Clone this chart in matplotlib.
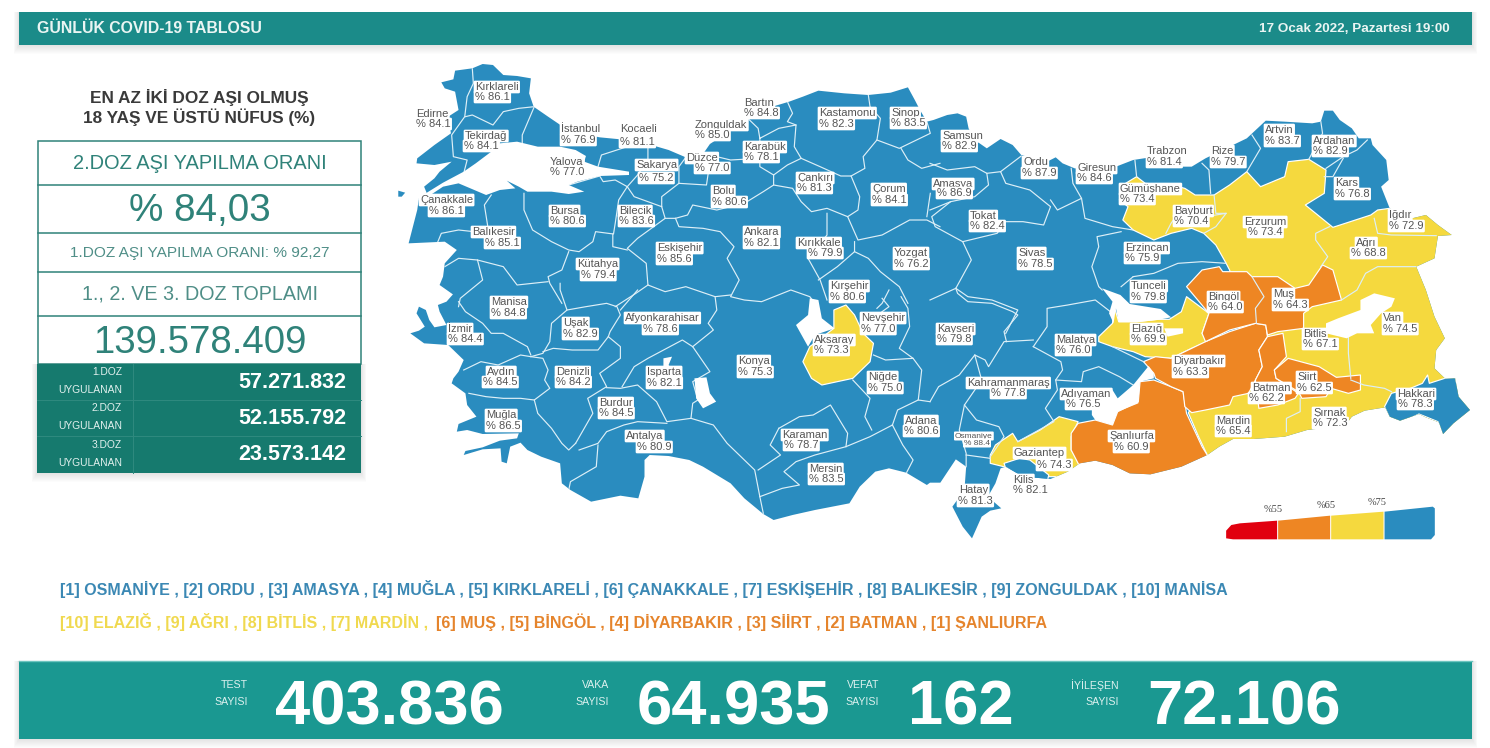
import matplotlib
matplotlib.use('Agg')
import matplotlib.pyplot as plt
from matplotlib.patches import Polygon, Rectangle

plt.rcParams['font.family'] = ['Liberation Sans', 'DejaVu Sans']

# ---- values
provinces = ['Edirne', 'Kırklareli', 'Tekirdağ', 'İstanbul', 'Kocaeli', 'Yalova', 'Sakarya', 'Düzce', 'Zonguldak',
             'Bartın', 'Karabük', 'Kastamonu', 'Sinop', 'Çankırı', 'Çorum', 'Bolu', 'Çanakkale', 'Bursa', 'Bilecik',
             'Balıkesir', 'Ankara', 'Kırıkkale', 'Eskişehir', 'Kütahya', 'Yozgat', 'Kırşehir', 'Manisa', 'Uşak',
             'Afyonkarahisar', 'Nevşehir', 'İzmir', 'Aksaray', 'Konya', 'Aydın', 'Denizli', 'Isparta', 'Niğde',
             'Burdur', 'Muğla', 'Adana', 'Karaman', 'Antalya', 'Mersin', 'Samsun', 'Amasya', 'Ordu', 'Giresun',
             'Trabzon', 'Rize', 'Artvin', 'Ardahan', 'Kars', 'Gümüşhane', 'Bayburt', 'Erzurum', 'Iğdır', 'Ağrı',
             'Tokat', 'Sivas', 'Erzincan', 'Tunceli', 'Bingöl', 'Muş', 'Van', 'Kayseri', 'Elazığ', 'Malatya',
             'Bitlis', 'Diyarbakır', 'Kahramanmaraş', 'Siirt', 'Batman', 'Hakkari', 'Adıyaman', 'Mardin', 'Şırnak',
             'Şanlıurfa', 'Osmaniye', 'Gaziantep', 'Kilis', 'Hatay']
rates = [84.1, 86.1, 84.1, 76.9, 81.1, 77.0, 75.2, 77.0, 85.0,
         84.8, 78.1, 82.3, 83.5, 81.3, 84.1, 80.6, 86.1, 80.6, 83.6,
         85.1, 82.1, 79.9, 85.6, 79.4, 76.2, 80.6, 84.8, 82.9,
         78.6, 77.0, 84.4, 73.3, 75.3, 84.5, 84.2, 82.1, 75.0,
         84.5, 86.5, 80.6, 78.7, 80.9, 83.5, 82.9, 86.9, 87.9, 84.6,
         81.4, 79.7, 83.7, 82.9, 76.8, 73.4, 70.4, 73.4, 72.9, 68.8,
         82.4, 78.5, 75.9, 79.8, 64.0, 64.3, 74.5, 79.8, 69.9, 76.0,
         67.1, 63.3, 77.8, 62.5, 62.2, 78.3, 76.5, 65.4, 72.3,
         60.9, 88.4, 74.3, 82.1, 81.3]
rate_of = dict(zip(provinces, rates))

thresholds = [55, 65, 75]
threshold_labels = ['%55', '%65', '%75']

top_title = 'GÜNLÜK COVID-19 TABLOSU'
top_date = '17 Ocak 2022, Pazartesi 19:00'
panel_heading = ['EN AZ İKİ DOZ AŞI OLMUŞ', '18 YAŞ VE ÜSTÜ NÜFUS (%)']
panel_rows = ['2.DOZ AŞI YAPILMA ORANI', '% 84,03', '1.DOZ AŞI YAPILMA ORANI: % 92,27',
              '1., 2. VE 3. DOZ TOPLAMI', '139.578.409']
dose_names = ['1.DOZ', '2.DOZ', '3.DOZ']
dose_counts = ['57.271.832', '52.155.792', '23.573.142']
best_line = '[1] OSMANİYE , [2] ORDU , [3] AMASYA , [4] MUĞLA , [5] KIRKLARELİ , [6] ÇANAKKALE , [7] ESKİŞEHİR , [8] BALIKESİR , [9] ZONGULDAK , [10] MANİSA'
worst_yellow = '[10] ELAZIĞ , [9] AĞRI , [8] BİTLİS , [7] MARDİN ,'
worst_orange = '[6] MUŞ , [5] BİNGÖL , [4] DİYARBAKIR , [3] SİİRT , [2] BATMAN , [1] ŞANLIURFA'
stat_names = ['TEST', 'VAKA', 'VEFAT', 'İYİLEŞEN']
stat_values = ['403.836', '64.935', '162', '72.106']

# ---- label positions: name x, name y, value x, value y (pixels)
label_pos = [(416, 114, 416, 124), (475, 87, 475, 97), (465, 136, 464, 146), (561, 129, 561, 140), (620, 129, 620, 142),
             (550, 162, 550, 172), (636, 165, 639, 178), (686, 158, 695, 168), (695, 125, 695, 135),
             (744, 103, 744, 113), (744, 147, 744, 157), (819, 113, 819, 124), (891, 113, 891, 123), (797, 178, 797, 188),
             (872, 189, 872, 200), (712, 191, 712, 202), (420, 200, 429, 211), (550, 211, 550, 221), (619, 211, 619, 221),
             (472, 232, 485, 243), (744, 232, 744, 243), (797, 243, 808, 253), (657, 248, 657, 259), (577, 264, 581, 275),
             (894, 253, 894, 264), (830, 286, 830, 297), (491, 302, 491, 313), (563, 323, 563, 334),
             (625, 318, 643, 329), (861, 318, 861, 329), (448, 329, 448, 339), (814, 340, 814, 350), (738, 361, 738, 372),
             (487, 372, 483, 382), (556, 372, 556, 382), (647, 372, 647, 383), (868, 377, 868, 388),
             (599, 403, 599, 413), (486, 415, 486, 426), (905, 421, 904, 431), (782, 435, 784, 445), (626, 436, 637, 447),
             (809, 469, 809, 479), (942, 136, 942, 146), (933, 184, 937, 193), (1023, 162, 1022, 173), (1077, 168, 1077, 178),
             (1147, 151, 1147, 162), (1211, 151, 1211, 162), (1265, 130, 1265, 141), (1313, 141, 1313, 151), (1335, 183, 1335, 194),
             (1120, 189, 1120, 199), (1174, 211, 1174, 221), (1244, 222, 1248, 232), (1389, 215, 1389, 226), (1356, 243, 1351, 253),
             (970, 216, 970, 226), (1018, 253, 1018, 264), (1125, 248, 1125, 258), (1131, 286, 1131, 297), (1208, 297, 1208, 307),
             (1273, 294, 1273, 305), (1383, 318, 1383, 329), (937, 329, 937, 339), (1131, 329, 1131, 339), (1056, 340, 1056, 350),
             (1303, 334, 1303, 344), (1173, 361, 1173, 372), (967, 383, 991, 393), (1297, 377, 1297, 388), (1252, 388, 1249, 398),
             (1397, 394, 1398, 404), (1061, 394, 1066, 404), (1216, 421, 1216, 431), (1313, 413, 1313, 423),
             (1109, 436, 1114, 447), (955, 436, 964, 443), (1014, 453, 1037, 465), (1013, 480, 1013, 490), (959, 490, 958, 501)]

# ---- map geometry, traced in four local frames of the picture
NW = (400, 50)
NE = (930, 70)
SW = (400, 290)
SE = (930, 290)


def tr(frame, pts):
    return [(frame[0] + x / 2.904, frame[1] + y / 3) for x, y in pts]


outline = (
    tr(NW, [(120, 97), (155, 88), (160, 62), (210, 55), (240, 42), (270, 45), (300, 75), (340, 78), (380, 85), (375, 130),
            (388, 170), (430, 200), (470, 228), (520, 250), (580, 262), (640, 268), (720, 282), (780, 300), (830, 322),
            (880, 312), (900, 282), (955, 245), (1010, 205), (1075, 172), (1130, 155), (1170, 140), (1215, 122),
            (1290, 130), (1360, 135), (1425, 128), (1475, 112), (1495, 150), (1510, 180), (1530, 215)]) +
    tr(NE, [(10, 150), (50, 135), (80, 130), (105, 140), (112, 175), (130, 210), (165, 235), (205, 207), (240, 225),
            (265, 255), (300, 265), (340, 275), (365, 262), (385, 280), (420, 295), (470, 300), (540, 290), (590, 270),
            (640, 262), (700, 290), (760, 290), (800, 265), (860, 235), (920, 205), (975, 152), (1030, 155), (1110, 160),
            (1135, 155), (1145, 122), (1170, 122), (1190, 150), (1225, 175), (1245, 205), (1280, 205), (1285, 225),
            (1325, 270), (1332, 330), (1310, 350), (1335, 415), (1380, 450), (1440, 435), (1475, 465), (1515, 495),
            (1475, 498), (1465, 565), (1412, 590), (1440, 660)]) +
    tr(SE, [(1465, 80), (1495, 145), (1470, 180), (1465, 235), (1495, 265), (1525, 265), (1535, 320), (1568, 360),
            (1520, 400), (1490, 432), (1478, 397), (1440, 382), (1420, 372), (1365, 392), (1335, 380), (1322, 352),
            (1262, 362), (1225, 380), (1205, 408), (1160, 412), (1095, 420), (1030, 440), (940, 447), (880, 447),
            (840, 470), (805, 495), (730, 530), (640, 553), (580, 550), (530, 525), (480, 512), (435, 520), (400, 545),
            (350, 567), (270, 560), (220, 530), (205, 535), (190, 580), (168, 620), (207, 655), (175, 662), (150, 680),
            (122, 745), (95, 710), (65, 650), (100, 600), (105, 530), (75, 508), (30, 578), (0, 578)]) +
    tr(SW, [(1530, 585), (1470, 548), (1420, 535), (1380, 545), (1335, 590), (1305, 640), (1205, 660), (1140, 675),
            (1085, 690), (1055, 672), (1000, 625), (960, 580), (880, 530), (840, 510), (780, 498), (725, 495), (710, 510),
            (710, 560), (692, 625), (640, 617), (555, 635), (495, 600), (470, 580), (465, 520), (410, 500), (370, 480),
            (350, 458), (320, 470), (310, 520), (295, 515), (292, 475), (240, 478), (185, 495), (190, 483), (240, 472),
            (290, 452), (340, 445), (345, 430), (240, 432), (195, 420), (165, 425), (170, 402), (222, 380), (195, 345),
            (190, 310), (150, 280), (155, 265), (170, 245), (185, 210), (140, 165), (70, 160), (30, 130), (55, 122),
            (72, 110), (60, 90), (48, 70), (55, 50), (75, 60), (85, 90), (100, 112), (135, 105), (115, 65), (110, 45),
            (135, 35), (165, 0)]) +
    tr(NW, [(170, 745), (115, 705), (125, 680), (130, 640), (165, 600), (130, 575), (25, 580), (50, 480), (55, 445),
            (78, 430), (70, 410), (100, 385), (115, 365), (150, 335), (100, 345), (48, 340), (50, 325), (100, 285),
            (148, 250), (140, 200), (170, 180), (160, 125), (130, 115)])
)
gokceada = tr(NW, [(-5, 422), (15, 428), (5, 440), (-5, 440)])

marmara = tr(NW, [(265, 305), (290, 280), (340, 275), (400, 290), (465, 290), (510, 300), (540, 318), (535, 335), (575, 350),
                  (665, 365), (665, 375), (580, 378), (515, 395), (490, 405), (535, 425), (490, 432), (440, 425), (370, 425),
                  (345, 410), (310, 392), (335, 415), (290, 420), (250, 435), (170, 400), (125, 410), (90, 434), (50, 450),
                  (78, 428), (125, 398), (185, 365), (220, 340)])
lakes = [
    tr(SW, [(1190, 25), (1215, 30), (1225, 85), (1262, 115), (1205, 135), (1185, 170), (1150, 105), (1185, 75)]),
    tr(SW, [(855, 265), (890, 262), (900, 310), (918, 335), (880, 355), (860, 325)]),
    tr(SW, [(765, 205), (790, 200), (780, 225), (790, 240), (765, 230)]),
    tr(SE, [(1150, 100), (1185, 85), (1250, 60), (1250, 30), (1290, 10), (1350, 25), (1340, 50), (1310, 70), (1280, 105),
            (1290, 130), (1240, 130), (1210, 145), (1150, 130)]),
    tr(SE, [(500, -5), (553, 15), (580, 42), (670, 57), (700, 82), (660, 90), (600, 97), (548, 97), (540, 55), (533, 100),
            (520, 70), (530, 35)]),
    tr(SE, [(680, 115), (735, 115), (735, 130), (690, 140)]),
    tr(SE, [(470, 355), (530, 300), (545, 325), (590, 285), (635, 228), (650, 250), (650, 265), (610, 275), (605, 340),
            (545, 365), (530, 405), (480, 390), (470, 375)]),
]

# painted in this order, each one takes the colour of the named province
regions = [
    ('Erzurum', tr(NE, [(560, 345), (600, 320), (625, 340), (700, 345), (740, 355), (770, 375), (825, 375), (870, 345),
                        (920, 305), (960, 350), (1030, 320), (1040, 275), (1100, 268), (1150, 300), (1145, 370), (1090, 405),
                        (1120, 430), (1170, 472), (1280, 435), (1300, 420), (1335, 415), (1600, 420)]) +
     tr(SE, [(1600, 300), (1600, 600), (805, 600), (805, 495), (780, 440), (750, 368), (800, 300), (900, 200), (900, 60)]) +
     tr(NE, [(870, 600), (860, 580), (830, 525), (795, 490), (760, 475), (700, 490), (650, 510), (590, 480), (560, 450),
             (575, 410), (550, 390)])),
    ('Elazığ', tr(SE, [(490, 140), (530, 100), (535, 50), (548, 95), (600, 95), (660, 88), (695, 88), (730, 65), (745, 20),
                       (810, 70), (790, 130), (805, 155), (760, 175), (700, 205), (625, 200), (590, 185), (530, 170), (490, 155)])),
    ('Gaziantep', tr(SE, [(175, 495), (190, 465), (240, 430), (255, 455), (320, 420), (375, 380), (430, 395), (410, 440),
                          (410, 480), (435, 520), (400, 560), (330, 560), (175, 520)])),
    ('Aksaray', tr(SW, [(1260, 60), (1295, 45), (1320, 75), (1345, 130), (1375, 160), (1365, 215), (1315, 265), (1270, 275),
                        (1225, 285), (1195, 265), (1170, 215), (1190, 170), (1260, 115)])),
    ('Şanlıurfa', tr(SE, [(410, 430), (430, 400), (480, 390), (530, 405), (545, 365), (605, 335), (610, 275), (650, 270),
                          (700, 290), (735, 305), (745, 370), (790, 470), (805, 495), (760, 560), (640, 570), (580, 560),
                          (530, 535), (480, 525), (435, 530), (410, 480)])),
    ('Diyarbakır', tr(SE, [(620, 215), (655, 200), (700, 205), (760, 175), (800, 155), (870, 125), (945, 100), (975, 105),
                           (980, 140), (955, 180), (965, 230), (945, 270), (925, 310), (880, 320), (870, 345), (800, 360),
                           (760, 368), (740, 350), (735, 305), (700, 290), (655, 265), (650, 250)])),
    ('Bingöl', tr(NE, [(745, 650), (790, 600), (840, 590), (850, 605), (920, 605), (935, 620), (1010, 620), (1060, 655),
                       (1100, 645), (1140, 585), (1170, 600), (1195, 690), (1110, 710), (1085, 730), (1085, 775), (1010, 785),
                       (980, 795), (975, 765), (945, 760), (870, 780), (800, 815), (790, 790), (810, 730)])),
    ('Batman', tr(SE, [(980, 140), (1025, 130), (1035, 200), (1000, 240), (1005, 265), (1070, 310), (1060, 325), (1010, 345),
                       (955, 355), (945, 270), (965, 230), (955, 180)])),
    ('Siirt', tr(SE, [(1040, 205), (1130, 230), (1180, 262), (1250, 255), (1250, 300), (1215, 310), (1165, 295), (1150, 320),
                      (1080, 325), (1070, 305), (1005, 265), (1000, 240)])),
    ('Hakkari', tr(SE, [(1445, 255), (1450, 280), (1495, 265), (1525, 262), (1540, 320), (1580, 360), (1490, 440), (1475, 395),
                        (1420, 372), (1365, 400), (1335, 385), (1320, 350), (1340, 310), (1395, 295), (1430, 280)])),
    ('Kilis', tr(SE, [(215, 520), (260, 505), (290, 510), (345, 555), (340, 575), (270, 565), (220, 535)])),
]

borders = [
    tr(NW, [(210, 55), (213, 100), (195, 140), (188, 200), (150, 255), (155, 320), (195, 330), (185, 370)]),
    tr(NW, [(190, 200), (210, 195), (240, 210), (270, 225), (300, 185), (345, 175), (390, 170)]),
    tr(NW, [(390, 170), (355, 255), (355, 285)]),
    tr(NW, [(265, 435), (245, 465), (255, 530), (215, 545), (170, 540), (120, 550), (110, 575)]),
    tr(NW, [(360, 430), (360, 480), (385, 540), (440, 575), (490, 600), (520, 605), (560, 575), (568, 545), (620, 552),
            (625, 520), (635, 450), (660, 410)]),
    tr(NW, [(490, 405), (580, 378), (590, 395), (625, 390), (660, 410)]),
    tr(NW, [(660, 290), (585, 315), (575, 350)]),
    tr(NW, [(720, 285), (720, 330), (690, 375), (660, 410), (680, 440), (720, 455), (760, 470)]),
    tr(NW, [(830, 322), (810, 350), (810, 400), (760, 440), (760, 470), (770, 505)]),
    tr(NW, [(810, 400), (890, 405), (895, 370), (920, 320)]),
    tr(NW, [(830, 320), (920, 320), (960, 330), (1045, 325)]),
    tr(NW, [(1010, 205), (1040, 235), (1045, 265), (1100, 235), (1150, 225), (1145, 290), (1165, 325), (1125, 345), (1085, 375),
            (1045, 350), (1045, 265)]),
    tr(NW, [(1125, 155), (1140, 190), (1125, 215), (1150, 225)]),
    tr(NW, [(1085, 375), (1085, 405), (1055, 425), (1000, 460), (920, 480), (850, 465), (835, 495), (800, 505), (770, 505),
            (690, 565), (660, 595), (715, 640), (720, 705), (770, 725), (830, 710), (915, 740), (960, 735)]),
    tr(NW, [(800, 505), (810, 530), (880, 535), (930, 545), (970, 590), (950, 625), (985, 690), (960, 740), (1000, 750),
            (1050, 755), (1135, 720), (1190, 740), (1205, 760)]),
    tr(NW, [(1165, 325), (1220, 350), (1280, 378), (1310, 378), (1335, 440), (1330, 480), (1300, 500), (1240, 475), (1195, 485),
            (1165, 455), (1140, 415), (1085, 405)]),
    tr(NW, [(1360, 135), (1365, 170), (1395, 205), (1385, 270), (1345, 320), (1350, 355), (1310, 378)]),
    tr(NW, [(1385, 270), (1450, 295), (1500, 270), (1540, 250), (1530, 215)]),
    tr(NW, [(1455, 295), (1475, 330), (1515, 355), (1568, 340)]),
    tr(NW, [(1300, 500), (1330, 570), (1400, 555), (1480, 510), (1530, 510), (1568, 530)]),
    tr(NW, [(1540, 430), (1530, 500)]),
    tr(NW, [(1240, 490), (1240, 555), (1185, 625), (1220, 690), (1240, 750)]),
    tr(NW, [(1215, 690), (1270, 650), (1320, 605), (1320, 575)]),
    tr(NW, [(1320, 605), (1360, 625), (1395, 665), (1450, 710), (1475, 760)]),
    tr(NW, [(1420, 720), (1400, 760), (1385, 775)]),
    tr(NW, [(618, 552), (618, 590), (660, 600)]),
    tr(NW, [(490, 605), (470, 660), (430, 680), (435, 700), (470, 760)]),
    tr(NW, [(720, 705), (685, 730), (625, 770)]),
    tr(NW, [(130, 650), (170, 625), (225, 630), (240, 690), (175, 745), (170, 770)]),
    tr(NW, [(225, 630), (300, 650), (340, 705), (430, 695)]),
    tr(SW, [(170, 35), (190, 65), (240, 100), (265, 130), (300, 130), (370, 170), (380, 195)]),
    tr(SW, [(185, 240), (235, 215), (285, 225), (350, 195), (380, 200), (415, 205), (430, 240), (420, 270), (435, 295), (390, 330),
            (350, 325), (300, 325), (250, 320), (200, 310)]),
    tr(SW, [(465, -20), (465, 0), (485, 60), (440, 100), (435, 155), (415, 190), (380, 200)]),
    tr(SW, [(485, 60), (540, 50), (600, 40), (630, 50), (640, 75), (610, 125), (605, 140), (575, 180), (500, 180), (445, 175), (415, 185)]),
    tr(SW, [(640, 60), (690, 0)]),
    tr(SW, [(390, 330), (400, 370), (440, 415), (470, 460), (490, 480), (510, 460)]),
    tr(SW, [(605, 140), (640, 170), (640, 205), (580, 250), (600, 290), (545, 325), (560, 370), (510, 460)]),
    tr(SW, [(520, 480), (575, 460), (600, 425), (650, 405), (690, 395), (775, 400)]),
    tr(SW, [(575, 465), (570, 530), (495, 575), (490, 600)]),
    tr(SW, [(600, 293), (640, 295), (690, 285), (745, 335), (775, 395), (845, 385), (910, 405), (950, 460), (1030, 540), (1045, 620), (1055, 670)]),
    tr(SW, [(645, 290), (680, 230), (720, 205), (820, 150), (850, 170), (900, 245), (850, 275), (865, 330), (850, 340), (845, 385)]),
    tr(SW, [(850, 170), (910, 120), (895, 100), (920, 60), (915, 20)]),
    tr(SW, [(1100, 415), (1075, 465), (1105, 495), (1040, 540)]),
    tr(SW, [(1100, 415), (1160, 380), (1200, 375), (1250, 345), (1300, 430), (1295, 470)]),
    tr(SW, [(1045, 620), (1110, 595), (1160, 585), (1115, 545), (1150, 515), (1205, 495), (1295, 470), (1365, 440), (1430, 405)]),
    tr(SW, [(1315, 270), (1365, 325), (1350, 380), (1370, 420)]),
    tr(SW, [(1430, 405), (1445, 360), (1505, 330), (1515, 240), (1490, 205), (1410, 210), (1375, 195)]),
    tr(SW, [(1490, 205), (1450, 175), (1480, 110), (1475, 55), (1455, 20)]),
    tr(SW, [(1430, 405), (1460, 465), (1490, 510), (1470, 550)]),
    tr(SW, [(1345, 70), (1380, 80), (1420, 50), (1400, 25)]),
    tr(SW, [(1505, 330), (1539, 335)]),
    tr(SE, [(0, 335), (25, 290), (85, 255), (130, 195), (160, 210), (170, 230), (215, 155), (300, 150)]),
    tr(SE, [(130, 195), (150, 270), (100, 345), (85, 420), (105, 490), (105, 530)]),
    tr(SE, [(100, 345), (135, 390), (200, 410), (215, 440), (175, 500)]),
    tr(SE, [(105, 495), (175, 505)]),
    tr(SE, [(300, 170), (340, 110), (340, 55), (400, 45), (480, 30), (530, 70)]),
    tr(SE, [(300, 170), (380, 215), (385, 240), (365, 270), (370, 300), (335, 355), (360, 395), (255, 455)]),
    tr(SE, [(365, 270), (440, 275), (445, 245), (490, 230), (550, 260), (590, 285)]),
    tr(SE, [(530, 170), (620, 215)]),
    tr(SE, [(222, 155), (215, 125), (255, 75), (240, 65), (180, 40), (110, 35), (80, 10), (75, -5)]),
    tr(NE, [(0, 280), (50, 300), (130, 290), (165, 310), (170, 345), (130, 380), (60, 395), (0, 420)]),
    tr(NE, [(165, 310), (205, 305), (220, 340), (290, 360), (350, 410), (330, 465), (270, 455), (220, 455), (195, 490), (95, 515),
            (15, 470), (5, 440), (60, 395)]),
    tr(NE, [(265, 258), (205, 305)]),
    tr(NE, [(350, 390), (370, 420), (440, 385), (415, 340), (410, 295)]),
    tr(NE, [(440, 385), (450, 445), (530, 470), (590, 480)]),
    tr(NE, [(595, 270), (600, 320)]),
    tr(NE, [(790, 280), (810, 300), (815, 370)]),
    tr(NE, [(935, 195), (960, 235), (920, 305)]),
    tr(NE, [(1135, 155), (1140, 190), (1100, 268)]),
    tr(NE, [(1150, 295), (1200, 260), (1240, 240), (1270, 210)]),
    tr(NE, [(1200, 265), (1170, 320), (1145, 320)]),
    tr(NE, [(555, 485), (485, 500), (490, 530), (470, 590), (490, 650), (500, 660)]),
    tr(NE, [(590, 620), (650, 610), (720, 580), (790, 575), (860, 580)]),
    tr(NE, [(555, 650), (590, 620)]),
    tr(NE, [(95, 515), (120, 570), (75, 655), (110, 680), (180, 690), (255, 720), (220, 790)]),
    tr(NE, [(75, 655), (0, 690)]),
    tr(NE, [(685, 490), (700, 460), (720, 430), (800, 440), (860, 430), (830, 470), (795, 490)]),
    tr(NE, [(825, 375), (830, 430), (860, 430)]),
    tr(NE, [(1160, 470), (1120, 490), (1120, 510), (1155, 560), (1135, 590)]),
    tr(NE, [(1290, 445), (1300, 490), (1340, 495), (1470, 497)]),
    tr(NE, [(1412, 590), (1300, 590), (1265, 610), (1240, 660), (1195, 690)]),
    tr(NE, [(935, 620), (970, 680), (945, 715), (948, 760)]),
    tr(SE, [(1215, 140), (1215, 190), (1222, 265)]),
    tr(SE, [(1222, 270), (1260, 285), (1320, 295), (1340, 305)]),
    tr(SE, [(1075, 325), (1075, 365), (1035, 385), (1035, 425)]),
]

legend_shapes = [
    tr(SE, [(860, 745), (860, 722), (875, 705), (900, 700), (1008, 692), (1008, 748), (880, 748)]),
    tr(SE, [(1011, 692), (1162, 677), (1162, 748), (1011, 748)]),
    tr(SE, [(1165, 677), (1317, 665), (1317, 748), (1165, 748)]),
    tr(SE, [(1320, 665), (1460, 650), (1466, 655), (1466, 735), (1455, 748), (1320, 748)]),
]
legend_text_pos = tr(SE, [(997, 657), (1150, 646), (1298, 637)])

BLUE = '#2A8CBF'
YELLOW = '#F5D93E'
ORANGE = '#EE8623'
RED = '#E1000F'
legend_colors = [RED, ORANGE, YELLOW, BLUE]
TEAL = '#1B8B89'
TEAL_DARK = '#167A6E'
TEAL_BAR = '#1A9891'
TEAL_TEXT = '#2F8279'
LINE_BLUE = '#3B88B4'
LINE_YELLOW = '#F0D94F'
LINE_ORANGE = '#E5842C'


def rate_color(v):
    for limit, c in zip(thresholds, legend_colors):
        if v < limit:
            return c
    return legend_colors[-1]


def shadow(ax, x0, y0, x1, y1, drop=9):
    for i in range(drop):
        grow = drop - i
        ax.add_patch(Rectangle((x0 - grow * 0.6, y0), x1 - x0 + grow * 1.2, y1 - y0 + grow,
                               fc='black', ec='none', alpha=0.012, zorder=0.5))


fig = plt.figure(figsize=(14.9, 7.48), dpi=100)
ax = fig.add_axes([0, 0, 1, 1])
ax.set_xlim(0, 1490)
ax.set_ylim(748, 0)
ax.axis('off')

# top bar
shadow(ax, 19, 12, 1472, 45)
ax.add_patch(Rectangle((19, 12), 1453, 33, fc=TEAL, ec='none', zorder=1))
ax.text(37, 28.5, top_title, color='#EAF5F3', fontsize=11.4, fontweight='bold', va='center', zorder=2)
ax.text(1450, 29, top_date, color='#EAF5F3', fontsize=9.7, fontweight='bold', va='center', ha='right', zorder=2)

# left panel
ax.text(199, 97, panel_heading[0], color='#3A3A3A', fontsize=12.4, fontweight='bold', ha='center', va='center')
ax.text(199, 117, panel_heading[1], color='#3A3A3A', fontsize=12.4, fontweight='bold', ha='center', va='center')
shadow(ax, 37, 364, 361, 473)
ax.add_patch(Rectangle((38, 141), 323, 223, fc='white', ec=TEAL_TEXT, lw=1.1, zorder=1))
for y in [185, 233, 272, 316]:
    ax.plot([38, 361], [y, y], color=TEAL_TEXT, lw=1.1, zorder=1.5)
for y, txt, size, col in zip([163, 211, 253, 294, 343], panel_rows, [14.4, 27.8, 11.1, 14.2, 27.6],
                             [TEAL_TEXT, TEAL_TEXT, '#4F8E87', '#4F8E87', TEAL_TEXT]):
    ax.text(199.5, y, txt, color=col, fontsize=size, ha='center', va='center', zorder=2)
ax.add_patch(Rectangle((37, 364), 324, 109, fc=TEAL_DARK, ec='none', zorder=1))
for y in [400, 436]:
    ax.plot([37, 361], [y, y], color='#2F8A7F', lw=0.7, zorder=1.5)
ax.plot([133, 133], [364, 473], color='#2F8A7F', lw=0.7, zorder=1.5)
for i, (name, count) in enumerate(zip(dose_names, dose_counts)):
    y0 = 364 + i * 36.3
    ax.text(122, y0 + 8, name, color='#E3F1EE', fontsize=7.4, ha='right', va='center', zorder=2)
    ax.text(122, y0 + 26, 'UYGULANAN', color='#E3F1EE', fontsize=7.4, ha='right', va='center', zorder=2)
    ax.text(346, y0 + 18, count, color='white', fontsize=15.5, fontweight='bold', ha='right', va='center', zorder=2)

# map
land_patch = Polygon(outline, closed=True, fc=BLUE, ec='none', zorder=2)
ax.add_patch(land_patch)
ax.add_patch(Polygon(gokceada, closed=True, fc=BLUE, ec='none', zorder=2))
for name, pts in regions:
    p = Polygon(pts, closed=True, fc=rate_color(rate_of[name]), ec='white', lw=0.85, zorder=3, joinstyle='round')
    ax.add_patch(p)
    p.set_clip_path(land_patch)
for line in borders:
    xs, ys = zip(*line)
    ln, = ax.plot(xs, ys, color='#DDEFF7', lw=0.85, zorder=4, solid_joinstyle='round')
    ln.set_clip_path(land_patch)
ax.add_patch(Polygon(marmara, closed=True, fc='white', ec='none', zorder=5))
for pts in lakes:
    ax.add_patch(Polygon(pts, closed=True, fc='white', ec='none', zorder=5))

for name, rate, (nx, ny, vx, vy) in zip(provinces, rates, label_pos):
    size = 6 if name == 'Osmaniye' else 8
    box = dict(boxstyle='round,pad=0.12', fc='white', ec='none')
    ax.text(nx, ny, name, color='#555555', fontsize=size, va='center', ha='left', bbox=box, zorder=6)
    ax.text(vx, vy, '%% %.1f' % rate, color='#555555', fontsize=size, va='center', ha='left', bbox=box, zorder=7)

# legend
for pts, c in zip(legend_shapes, legend_colors):
    ax.add_patch(Polygon(pts, closed=True, fc=c, ec='none', zorder=3))
for (x, y), t in zip(legend_text_pos, threshold_labels):
    ax.text(x, y, t, color='#444444', fontsize=7.5, family=['Liberation Serif'], ha='center', va='center')

# ranking lines
ax.text(60, 589, best_line, color=LINE_BLUE, fontsize=11.52, fontweight='bold', va='center')
ax.text(60, 622, worst_yellow, color=LINE_YELLOW, fontsize=11.52, fontweight='bold', va='center')
ax.text(436, 622, worst_orange, color=LINE_ORANGE, fontsize=11.52, fontweight='bold', va='center')

# bottom bar
shadow(ax, 19, 661, 1472, 739)
ax.add_patch(Rectangle((19, 661), 1453, 78, fc=TEAL_BAR, ec='none', zorder=1))
ax.plot([19, 1472], [660.5, 660.5], color='#6CC5BF', lw=1, zorder=1.5)
stat_label_x = [248, 609, 879, 1119]
stat_value_x = [275, 637, 908, 1147]
for name, value, lx, vx in zip(stat_names, stat_values, stat_label_x, stat_value_x):
    ax.text(lx, 685, name, color='#DDF1EF', fontsize=7.6, ha='right', va='center', zorder=2)
    ax.text(lx, 702, 'SAYISI', color='#DDF1EF', fontsize=7.6, ha='right', va='center', zorder=2)
    ax.text(vx, 708, value, color='white', fontsize=45.5, fontweight='bold', ha='left', va='center', zorder=2)

fig.savefig('out.png', dpi=100)
